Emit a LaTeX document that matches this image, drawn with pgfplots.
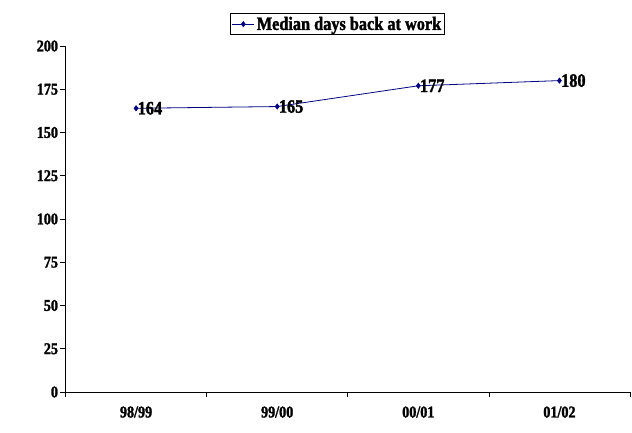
\documentclass[border=0pt]{standalone}
\usepackage{fontspec}
\setmainfont{Liberation Serif}[FakeStretch=0.86, BoldFeatures={FakeBold=1.6}]
\usepackage{pgfplots}
\pgfplotsset{compat=1.18}
\definecolor{navyline}{HTML}{000080}

\begin{document}
\begin{tikzpicture}
\path[use as bounding box] (-65.5bp,-41bp) rectangle (566.5bp,392bp);
\begin{axis}[
  at={(0,0)}, anchor=south west,
  scale only axis, width=564.5bp, height=346bp,
  xmin=0, xmax=4, ymin=0, ymax=200,
  axis x line*=bottom, axis y line*=left,
  axis line style={-, black, line width=0.8pt},
  xtick={0.5,1.5,2.5,3.5},
  xticklabels={98/99, 99/00, 00/01, 01/02},
  major x tick style={draw=none},
  minor xtick={0,1,2,3,4},
  minor tick length=5bp,
  ytick={0,25,...,200},
  major tick length=5bp,
  tick align=outside,
  tick style={black, line width=0.6pt},
  /pgf/number format/assume math mode=true,
  ticklabel style={font=\fontsize{16.5}{16.5}\selectfont\bfseries},
  yticklabel style={xshift=1bp},
  xticklabel style={yshift=-6bp},
  legend style={at={(0.482,1.032)}, anchor=south, draw=black, line width=0.6pt,
    font=\fontsize{19}{19}\selectfont\bfseries, inner sep=1.2bp,
    legend cell align=left},
  legend image code/.code={
    \draw[#1] (0bp,0bp) -- (22bp,0bp);
    \draw[#1, only marks] plot coordinates {(11bp,0bp)};
  },
  clip=false,
]
\addplot[navyline, line width=0.8pt, mark=diamond*, mark size=2.5bp,
  mark options={fill=navyline, draw=navyline},
  nodes near coords,
  nodes near coords style={anchor=west, xshift=-2bp, black,
    font=\fontsize{19}{19}\selectfont\bfseries},
] coordinates {(0.5,164) (1.5,165) (2.5,177) (3.5,180)};
\addlegendentry{Median days back at work}
\end{axis}
\end{tikzpicture}
\end{document}
